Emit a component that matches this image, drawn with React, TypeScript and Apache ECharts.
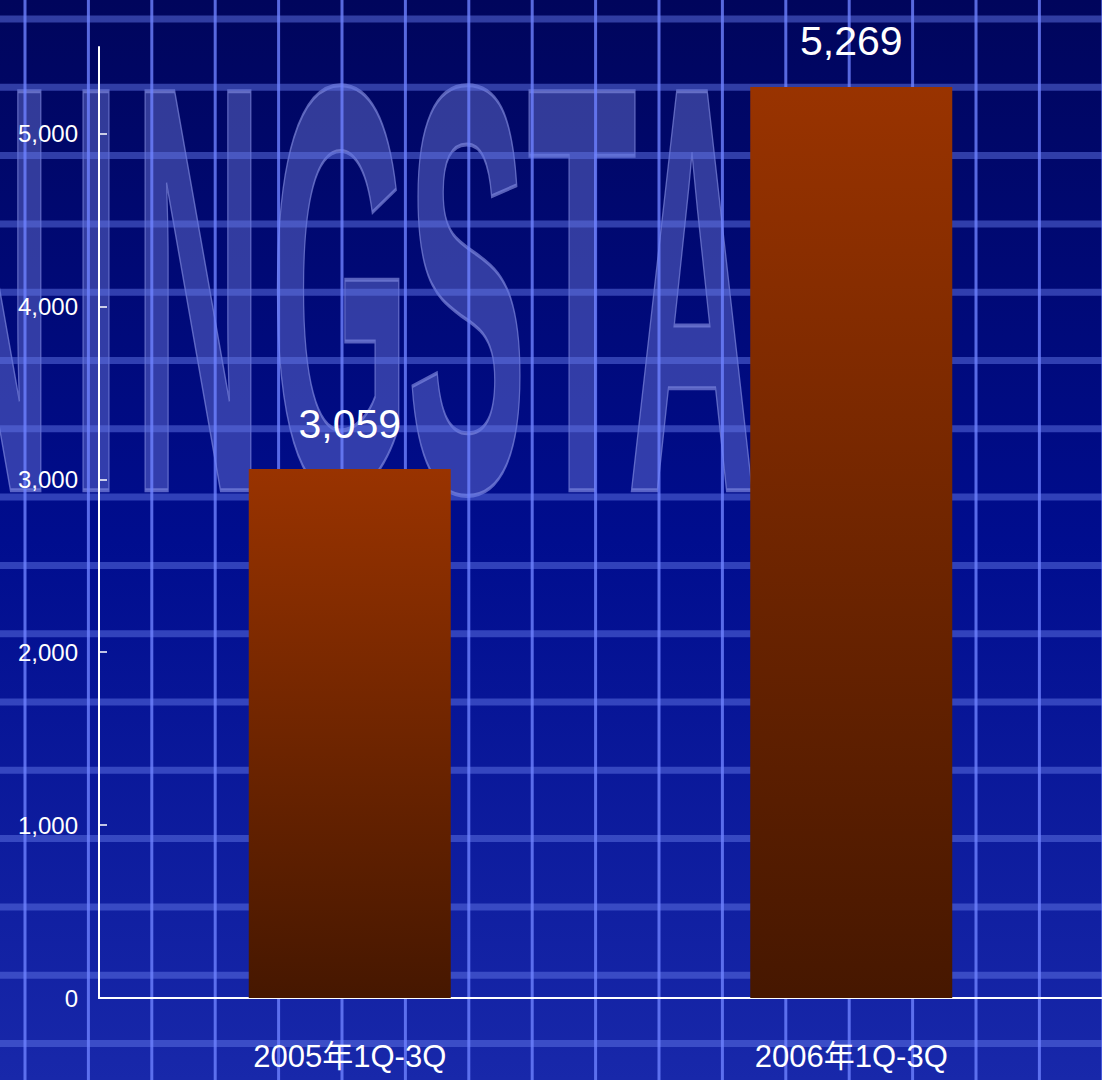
import React, { useEffect, useRef } from 'react';
import * as echarts from 'echarts';

const categories = ['2005年1Q-3Q', '2006年1Q-3Q'];
const values = [3059, 5269];
const yMin = 0;
const yMax = 5500;
const yStep = 1000;
const yTickValues = [0, 1000, 2000, 3000, 4000, 5000];

const FONT = "'Liberation Sans', Arial, 'Noto Sans CJK SC', sans-serif";

// decorative background watermark letters ("...NINGSTA..." of MORNINGSTAR)
const bgLetters = ['N', 'I', 'N', 'G', 'S', 'T', 'A'];
const bgLetterCenters = [-12, 96, 198, 340, 467, 582, 692];

function fmt(v: number | string): string {
  return Number(v).toLocaleString('en-US');
}

export default function App() {
  const ref = useRef<HTMLDivElement>(null);
  useEffect(() => {
    if (!ref.current) return;
    const chart = echarts.init(ref.current, null, { renderer: 'svg' });
    const W = 1102;
    const H = 1080;
    const elements: any[] = [];
    elements.push({
      type: 'rect', z: -30, silent: true,
      shape: { x: 0, y: 0, width: W, height: H },
      style: {
        fill: new echarts.graphic.LinearGradient(0, 0, 0, 1, [
          { offset: 0, color: '#00055c' },
          { offset: 0.5, color: '#000d8e' },
          { offset: 1, color: '#1828aa' },
        ]),
      },
    });
    bgLetters.forEach((ch, i) => {
      elements.push({
        type: 'text', z: -20, silent: true,
        x: bgLetterCenters[i], y: 289, scaleX: 0.31,
        style: {
          text: ch,
          font: "bold 580px 'Liberation Sans', Arial, sans-serif",
          fill: 'rgba(120,130,225,0.42)',
          stroke: 'rgba(160,170,245,0.55)',
          lineWidth: 4,
          align: 'center',
          verticalAlign: 'middle',
        },
      });
    });
    for (let k = 0; k < 16; k++) {
      const y = 19 + 68.3 * k;
      elements.push({
        type: 'line', z: -15, silent: true,
        shape: { x1: 0, y1: y, x2: W, y2: y },
        style: { stroke: 'rgba(95,115,230,0.5)', lineWidth: 7 },
      });
    }
    for (let k = 0; k < 18; k++) {
      const x = 25 + 63.4 * k;
      elements.push({
        type: 'line', z: -14, silent: true,
        shape: { x1: x, y1: 0, x2: x, y2: H },
        style: { stroke: 'rgba(110,130,255,0.8)', lineWidth: 3 },
      });
    }

    chart.setOption({
      animation: false,
      graphic: { elements },
      grid: { left: 99, right: 0, top: 47, bottom: 82, containLabel: false },
      xAxis: {
        type: 'category',
        data: categories,
        axisLine: { lineStyle: { color: '#ffffff', width: 2 } },
        axisTick: { inside: true, length: 13, lineStyle: { color: '#ffffff', width: 1.5 } },
        axisLabel: { color: '#ffffff', fontSize: 31, fontFamily: FONT, margin: 43 },
        splitLine: { show: false },
      },
      yAxis: {
        type: 'value',
        min: yMin,
        max: yMax,
        interval: yStep,
        axisLine: { show: true, lineStyle: { color: '#ffffff', width: 2 } },
        axisTick: {
          show: true, inside: true, length: 8,
          customValues: yTickValues,
          lineStyle: { color: '#ffffff', width: 1.5 },
        },
        axisLabel: {
          color: '#ffffff', fontSize: 24, fontFamily: FONT, margin: 21,
          customValues: yTickValues,
          padding: [8, 0, 0, 0],
          formatter: (v: number) => fmt(v),
        },
        splitLine: { show: false },
      },
      series: [
        {
          type: 'bar',
          data: values,
          barWidth: 202,
          itemStyle: {
            color: new echarts.graphic.LinearGradient(0, 0, 0, 1, [
              { offset: 0, color: '#993300' },
              { offset: 1, color: '#461700' },
            ]),
          },
          label: {
            show: true,
            position: 'top',
            distance: 25,
            color: '#ffffff',
            fontSize: 41,
            fontFamily: FONT,
            formatter: (p: any) => fmt(p.value),
          },
        },
      ],
    });
    return () => chart.dispose();
  }, []);
  return (
    <div
      ref={ref}
      style={{ position: 'absolute', left: 0, top: 0, width: 1102, height: 1080 }}
    />
  );
}
